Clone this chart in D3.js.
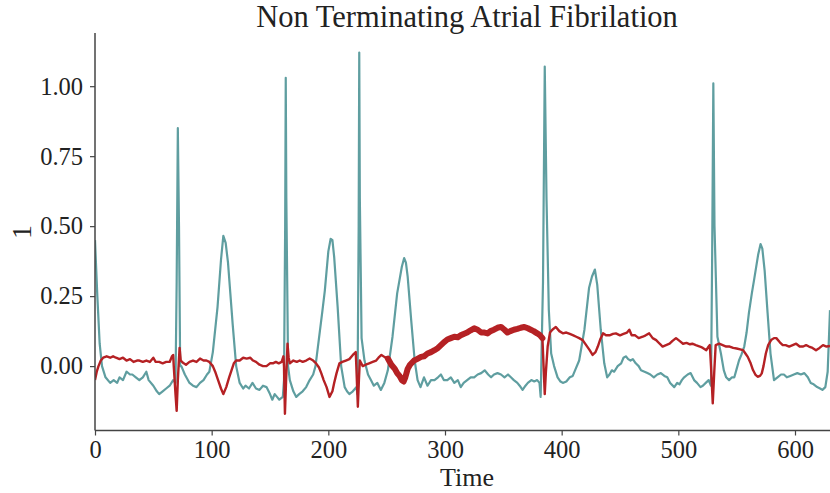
<!DOCTYPE html>
<html>
<head>
<meta charset="utf-8">
<script src="https://cdn.jsdelivr.net/npm/d3@7"></script>
<style>
  html, body { margin: 0; padding: 0; background: #fff; }
  svg text { font-family: "Liberation Serif", "DejaVu Serif", serif; fill: #222; }
</style>
</head>
<body>
<svg id="chart" width="830" height="493"></svg>
<script>
// chart text
const titleText = 'Non Terminating Atrial Fibrilation';
const xLabel = 'Time';
const yLabel = '1';

// tick values
const xTicks = [0, 100, 200, 300, 400, 500, 600];
const yTicks = [0, 0.25, 0.5, 0.75, 1.0];

// teal signal, [time, value]
const tealSeries = [
  [0,0.45],[2,0.25],[4,0.08],[6,0.0],[9,-0.04],[13,-0.06],[16,-0.05],[19,-0.06],[21,-0.04],[24,-0.05],
  [27,-0.02],[30,-0.03],[32,-0.03],[35,-0.04],[38,-0.05],[41,-0.04],[44,-0.02],[46,-0.05],[50,-0.07],[53,-0.09],
  [55,-0.1],[58,-0.09],[61,-0.08],[64,-0.07],[67,-0.05],[69,-0.06],[70,0.3],[71,0.85],[72,0.5],[73,0.0],
  [74,0.0],[77,-0.03],[81,-0.06],[84,-0.07],[87,-0.075],[90,-0.06],[93,-0.05],[96,-0.03],[98,-0.02],[101,0.05],
  [105,0.21],[108,0.38],[110,0.465],[112,0.44],[114,0.37],[116,0.26],[118,0.15],[121,0.0],[124,-0.06],[127,-0.08],
  [129,-0.07],[132,-0.08],[135,-0.06],[138,-0.08],[141,-0.085],[144,-0.07],[147,-0.075],[150,-0.1],[152,-0.12],[154,-0.1],
  [156,-0.11],[158,-0.12],[161,-0.11],[162,-0.05],[163,0.5],[163.5,1.03],[164,0.6],[165.5,0.0],[167,-0.05],[170,-0.09],
  [172.5,-0.11],[175,-0.1],[178,-0.09],[181,-0.075],[184,-0.05],[187,-0.03],[189,0.0],[192,0.1],[195,0.2],[197,0.27],
  [200,0.41],[202,0.455],[203.5,0.45],[205,0.39],[208,0.21],[211,0.0],[214,-0.075],[216,-0.09],[218,-0.1],[221,-0.09],
  [224,-0.075],[225,-0.1],[226,0.5],[226.5,1.12],[227,0.6],[228.5,0.1],[231,0.02],[234,-0.03],[236.5,-0.05],[239,-0.07],
  [242,-0.06],[245,-0.085],[248,-0.06],[251,-0.015],[255,0.105],[259,0.26],[263,0.355],[265,0.386],[266.5,0.37],[268,0.32],
  [271,0.165],[274,0.02],[276.5,-0.05],[279,-0.075],[282,-0.04],[285,-0.07],[288,-0.05],[291,-0.05],[294,-0.04],[296.5,-0.03],
  [299,-0.05],[302,-0.05],[305,-0.04],[308,-0.06],[311,-0.05],[313.5,-0.075],[316,-0.06],[319,-0.05],[322,-0.04],[325,-0.04],
  [328,-0.03],[331,-0.025],[334,-0.015],[337,-0.03],[339.5,-0.04],[342,-0.03],[345,-0.025],[348,-0.03],[351,-0.04],[354,-0.03],
  [356.5,-0.04],[359,-0.05],[362,-0.06],[364,-0.07],[366.5,-0.085],[369,-0.07],[371,-0.06],[374,-0.05],[376.5,-0.055],[379,-0.05],
  [381,-0.06],[382,-0.11],[384,0.3],[385.5,1.07],[387,0.6],[389,0.2],[391,0.045],[393.5,0.0],[396.5,-0.04],[399,-0.055],
  [401,-0.06],[404,-0.055],[407,-0.04],[409.5,-0.035],[412,-0.01],[415,0.02],[419.5,0.13],[423.5,0.28],[426,0.32],[428.5,0.345],
  [430.5,0.29],[433.5,0.13],[436.5,0.01],[439,-0.04],[441,-0.03],[443,-0.015],[445,-0.02],[448,0.0],[451,0.01],[453,0.03],
  [455,0.035],[457,0.025],[459,0.02],[461,0.025],[463.5,0.01],[466,0.0],[468,-0.015],[471,-0.02],[473.5,-0.025],[476,-0.03],
  [479,-0.04],[482,-0.03],[485,-0.025],[488,-0.035],[490.5,-0.04],[493,-0.06],[496.5,-0.075],[499,-0.06],[501,-0.065],[503,-0.05],
  [505,-0.04],[508,-0.03],[510.5,-0.025],[513.5,-0.05],[516,-0.06],[519,-0.075],[521,-0.07],[523.5,-0.06],[526,-0.05],[528,-0.07],
  [529,0.4],[530,1.01],[531,0.5],[533.5,0.105],[536.5,0.045],[539,-0.015],[541,-0.04],[543.5,-0.05],[546,-0.04],[548,-0.04],
  [550,-0.01],[552,0.02],[554,0.04],[556.5,0.07],[558.5,0.12],[560.5,0.19],[563,0.26],[565,0.31],[568.5,0.4],[570.5,0.436],
  [572,0.42],[574,0.34],[576.5,0.19],[579,0.045],[582,-0.05],[585,-0.04],[588,-0.03],[590.5,-0.03],[593,-0.04],[596,-0.035],
  [599,-0.03],[602,-0.025],[605,-0.03],[608,-0.025],[611,-0.04],[613.5,-0.06],[616,-0.065],[619,-0.075],[621.5,-0.08],[623.5,-0.085],
  [626,-0.075],[628,-0.02],[630,0.2]
];

// red signal, thin part before the highlight
const redBefore = [
  [0,-0.05],[1.5,-0.02],[3,0.0],[5,0.02],[7,0.03],[10,0.035],[13,0.03],[15.5,0.035],[18,0.03],[21,0.025],
  [24,0.03],[27,0.02],[30,0.025],[33,0.015],[36,0.02],[38,0.02],[41,0.015],[44,0.02],[47,0.015],[50,0.03],
  [52,0.015],[55,0.015],[58,0.01],[61,0.015],[64,0.015],[66,0.035],[67,0.04],[67.5,0.0],[69,-0.1],[70,-0.16],
  [71,-0.05],[72.5,0.065],[73.5,0.02],[76,0.01],[78,0.005],[81,0.015],[84,0.02],[87,0.015],[90,0.027],[93,0.02],
  [95.5,0.02],[98,0.015],[101,0.0],[103,-0.02],[105.5,-0.05],[108,-0.08],[110,-0.1],[112.5,-0.075],[115,-0.04],[117,-0.015],
  [119,0.01],[121,0.02],[124,0.02],[127,0.03],[130,0.027],[133,0.03],[135.5,0.02],[138,0.015],[141,0.005],[144,0.0],
  [147,0.0],[150,0.01],[152.5,0.01],[155,0.015],[157.5,0.01],[160,0.015],[161.5,0.035],[162,0.0],[162.8,-0.17],[163.8,-0.05],
  [165,0.08],[166,0.03],[167,0.01],[170,0.02],[173,0.015],[175.5,0.02],[178,0.015],[181,0.02],[184,0.027],[187,0.02],
  [189.5,0.01],[192,-0.005],[194,-0.026],[196,-0.05],[198.5,-0.075],[201,-0.11],[203.5,-0.09],[205,-0.06],[207,-0.026],[209.5,0.01],
  [212,0.015],[215,0.02],[218,0.025],[221,0.04],[223.5,0.05],[224,0.0],[225.3,-0.145],[226.2,-0.05],[227,0.02],[229.5,0.0],
  [232,0.005],[235,0.01],[238,0.015],[241,0.02],[243,0.03],[245.5,0.04],[248,0.033],[251,0.027]
];

// red signal, highlighted (thick) window
const redHighlight = [
  [251,0.027],[254,0.005],[257,-0.01],[259,-0.025],[261,-0.035],[263,-0.05],[264.5,-0.055],[266,-0.04],[268,-0.01],[270,0.005],
  [273.5,0.02],[276,0.025],[279.5,0.033],[282,0.035],[285,0.045],[288,0.05],[291,0.057],[294,0.065],[296.5,0.075],[299,0.085],
  [302,0.095],[305,0.1],[308,0.105],[311,0.103],[313.5,0.11],[316,0.115],[319,0.12],[322,0.128],[325,0.135],[328,0.13],
  [331,0.12],[334,0.12],[336.5,0.117],[339,0.125],[342,0.13],[345,0.137],[348,0.14],[351,0.13],[353.5,0.12],[356,0.125],
  [359,0.13],[362,0.133],[365,0.137],[368,0.14],[371,0.135],[373.5,0.13],[376,0.125],[379,0.117],[381.5,0.11],[383.5,0.1]
];

// red signal, thin part after the highlight
const redAfter = [
  [383.5,0.1],[384.5,0.0],[385.5,-0.1],[386.5,-0.02],[388,0.07],[390,0.12],[392,0.13],[395,0.14],[398,0.125],[401,0.117],
  [404,0.12],[407,0.115],[410,0.11],[412.5,0.105],[415,0.1],[418,0.093],[421,0.075],[424,0.057],[426.5,0.04],[429,0.05],
  [431,0.07],[433,0.095],[435.5,0.117],[438,0.11],[441,0.11],[444,0.115],[446.5,0.117],[450,0.11],[453,0.115],[456,0.12],
  [458,0.13],[460,0.11],[463,0.11],[466,0.1],[469.5,0.105],[472,0.11],[475,0.117],[478,0.1],[481,0.093],[484,0.08],
  [486.5,0.07],[489.5,0.075],[492.5,0.08],[495,0.09],[498,0.1],[501,0.09],[504,0.08],[507,0.083],[510,0.078],[512,0.08],
  [515,0.075],[518.5,0.07],[521,0.065],[524,0.057],[526,0.07],[527,0.075],[528,0.0],[529.5,-0.133],[530.8,-0.02],[532,0.075],
  [535,0.08],[538,0.075],[541,0.07],[544,0.07],[547,0.065],[550,0.063],[553,0.06],[555.5,0.057],[557.5,0.045],[559.5,0.033],
  [562,0.01],[564,-0.014],[566,-0.03],[568,-0.038],[570,-0.035],[571.5,-0.026],[573,0.0],[575,0.045],[577,0.075],[579.5,0.093],
  [582,0.1],[584,0.1],[587,0.085],[589.5,0.075],[592,0.075],[595,0.07],[598,0.075],[601,0.08],[604,0.07],[607,0.07],
  [609.5,0.075],[612,0.07],[615,0.065],[618,0.057],[621,0.065],[624,0.075],[627,0.07],[630,0.072]
];

const tealColor = '#5f9ea0';
const redColor = '#b52124';

function drawChart() {
    const svg = d3.select('#chart');
    const width = 830;
    const margin = { top: 33, right: 0, bottom: 62, left: 95 };
    const plotBottom = 430.5;

    // scales - the right side of the plot runs off the picture
    const x = d3.scaleLinear().domain([0, 630]).range([margin.left, width - margin.right]);
    const y = d3.scaleLinear().domain([-0.23, 1.19]).range([plotBottom, margin.top]);

    // clip so the lines stay inside the axes
    svg.append('defs').append('clipPath').attr('id', 'plot-clip')
        .append('rect')
        .attr('x', margin.left).attr('y', margin.top - 2)
        .attr('width', width - margin.left).attr('height', plotBottom - margin.top + 4);

    const line = d3.line().x(d => x(d[0])).y(d => y(d[1]));
    const plot = svg.append('g').attr('clip-path', 'url(#plot-clip)');

    plot.append('path')
        .datum(tealSeries)
        .attr('d', line)
        .attr('fill', 'none')
        .attr('stroke', tealColor)
        .attr('stroke-width', 2.2)
        .attr('stroke-linejoin', 'round');

    [redBefore, redAfter].forEach(seg => {
        plot.append('path')
            .datum(seg)
            .attr('d', line)
            .attr('fill', 'none')
            .attr('stroke', redColor)
            .attr('stroke-width', 2.4)
            .attr('stroke-linejoin', 'round');
    });

    plot.append('path')
        .datum(redHighlight)
        .attr('d', line)
        .attr('fill', 'none')
        .attr('stroke', redColor)
        .attr('stroke-width', 6)
        .attr('stroke-linejoin', 'round')
        .attr('stroke-linecap', 'round');

    // axes
    const xAxis = svg.append('g')
        .attr('transform', `translate(0, ${plotBottom})`)
        .call(d3.axisBottom(x).tickValues(xTicks).tickSize(5).tickPadding(3).tickFormat(d3.format('d')));
    const yAxis = svg.append('g')
        .attr('transform', `translate(${margin.left}, 0)`)
        .call(d3.axisLeft(y).tickValues(yTicks).tickSize(5).tickPadding(7).tickFormat(d3.format('.2f')));

    [xAxis, yAxis].forEach(ax => {
        ax.select('.domain').attr('stroke', '#444').attr('stroke-width', 1.5);
        ax.selectAll('.tick line').attr('stroke', '#444').attr('stroke-width', 1.2);
        ax.selectAll('.tick text')
            .attr('fill', '#222')
            .style('font-family', '"Liberation Serif", serif')
            .style('font-size', '24.5px');
    });
    // plain spines, no end caps
    yAxis.select('.domain').attr('d', `M0,${plotBottom}V${margin.top}`);
    xAxis.select('.domain').attr('d', `M${margin.left},0H${width}`);
    xAxis.selectAll('.tick text').attr('dy', '0.78em');

    // title and labels
    svg.append('text')
        .attr('x', 467).attr('y', 27)
        .attr('text-anchor', 'middle')
        .style('font-size', '30.5px')
        .text(titleText);

    svg.append('text')
        .attr('x', 467).attr('y', 486)
        .attr('text-anchor', 'middle')
        .style('font-size', '26px')
        .text(xLabel);

    svg.append('text')
        .attr('transform', `translate(31, 232) rotate(-90)`)
        .attr('text-anchor', 'middle')
        .style('font-size', '28px')
        .text(yLabel);
}

drawChart();
</script>
</body>
</html>
